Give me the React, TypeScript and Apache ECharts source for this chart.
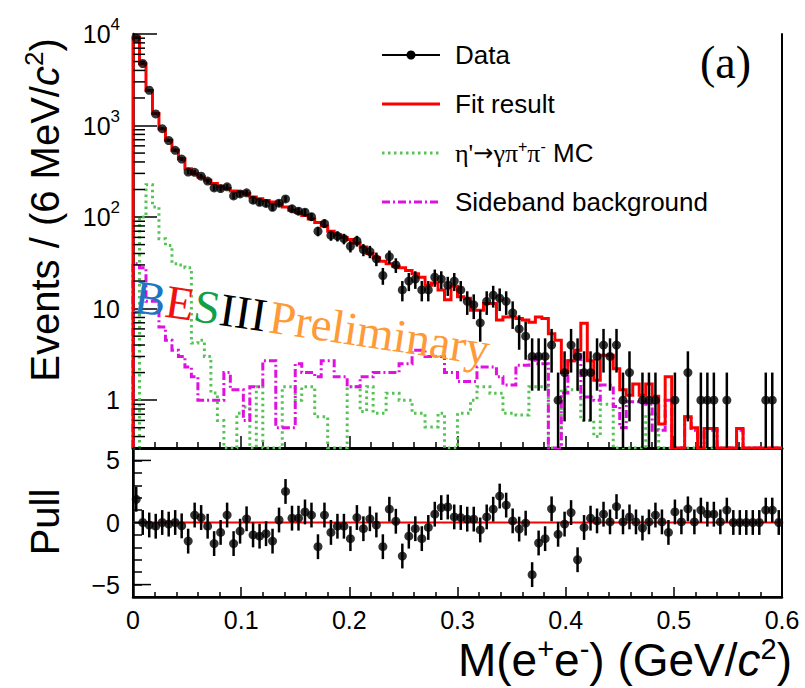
import React, { useEffect, useRef } from 'react';
import * as echarts from 'echarts';

const BIN_WIDTH = 0.006;
const X_MIN = 0;
const X_MAX = 0.6;
const Y_MIN = 0.3;
const Y_MAX = 10000;
const PULL_MIN = -6;
const PULL_MAX = 6;

const FIT = [
  9250, 4740, 2420, 1350, 925, 689, 536, 435, 338, 298,
  274, 252, 232, 217, 205, 193, 188, 180, 166, 159,
  152, 146, 140, 129, 119, 112, 104, 95, 87, 80,
  70, 64, 60, 57, 52, 47, 40, 36, 33, 31,
  29, 28, 26, 24, 22, 18, 19, 16, 12.5, 17.5,
  13.5, 13, 9.6, 9.6, 11.4, 11.4, 7.5, 8.1, 8.1, 7.8,
  7.5, 7.1, 8.1, 7.8, 5.3, 4.5, 2.0, 2.7, 3.5, 6.9,
  2.7, 1.65, 3.1, 3.1, 2.2, 1.3, 1.13, 1.5, 1.13, 1.5,
  1.1, 0.55, 1.8, 0, 0, 0.66, 0.5, 0, 0.49, 0.49,
  0, 0, 0, 0.49, 0, 0, 0, 0, 0, 0,
];

const DATA = [
  9000, 4760, 2430, 1340, 925, 686, 536, 430, 310, 308,
  280, 247, 208, 205, 214, 170, 179, 184, 153, 145,
  141, 128, 142, 158, 123, 116, 113, 101, 70, 85,
  63, 62, 58, 48, 55, 44, 42, 35, 23, 37,
  30, 16, 20, 21, 16, 16, 22, 21, 18, 20,
  16, 12, 11, 7, 12, 14, 13, 12, 9, 6,
  5, 3, 3, 3, 4, 1, 2, 4, 3, 2,
  2, 3, 4, 3, 4, 1, 2, 0, 1, 1,
  1, 0, 0, 1, 0, 2, 0, 1, 1, 1,
  0, 1, 0, 0, 0, 0, 0, 1, 1, 0,
];

const MC = [
  0, 100, 226, 129, 58, 49, 31, 30, 28, 4.2,
  4.5, 3, 1.2, 0.6, 0, 0, 0.72, 0.84, 0, 1.4,
  0, 0, 0, 1.4, 1.4, 1.0, 1.4, 1.4, 0.66, 0.66,
  0, 0, 0, 1.4, 1.4, 0.75, 1.4, 0.72, 0.72, 1.19,
  1.19, 1.0, 1.0, 0.72, 0.72, 0.51, 0.51, 0.72, 0, 0,
  0.72, 0.72, 1.0, 1.4, 1.4, 1.19, 1.19, 0.72, 0.72, 0.69,
  0.69, 1.4, 1.4, 1.4, 0, 0, 1.3, 1.3, 1.3, 0.6,
  0.6, 0.4, 0.9, 0.9, 0, 0, 0, 0, 0, 0.7,
  0.7, 0, 0, 0, 0, 0, 0, 0, 0, 0,
  0, 0, 0, 0, 0, 0, 0, 0, 0, 0,
];

const SIDEBAND = [
  31, 28, 12, 12, 6.3, 4.5, 3.5, 3.0, 2.3, 1.8,
  1.0, 1.0, 1.0, 1.0, 2.0, 1.3, 1.3, 0.6, 1.4, 1.4,
  2.7, 2.7, 0.5, 0.5, 0.5, 2.5, 2.0, 2.0, 1.8, 2.7,
  2.7, 1.8, 1.8, 1.4, 1.4, 1.8, 1.8, 2.0, 2.0, 2.0,
  2.0, 2.5, 2.5, 3.5, 3.5, 3.0, 3.0, 3.0, 2.0, 2.0,
  1.6, 1.6, 1.6, 2.3, 2.3, 2.3, 1.8, 1.46, 1.46, 2.4,
  2.4, 2.9, 2.5, 2.5, 0, 0, 1.2, 2.7, 3.5, 1.08,
  1.08, 1.0, 1.46, 1.46, 0.85, 0.5, 0.96, 0.96, 0.96, 0.9,
  0.47, 0.47, 1.0, 0, 0, 0.66, 0.47, 0, 0.47, 0.47,
  0, 0, 0, 0.47, 0, 0, 0, 0, 0, 0,
];

const PULL = [
  1.87, 0, -0.2, -0.3, 0, -0.13, 0, -0.27, -1.5, 0.6,
  0.4, -0.3, -1.7, -0.8, 0.6, -1.7, -0.7, 0.3, -1.0, -1.1,
  -0.9, -1.5, 0.2, 2.5, 0.35, 0.35, 0.85, 0.6, -1.95, 0.6,
  -0.8, -0.3, -0.3, -1.3, 0.4, -0.5, 0.3, -0.2, -1.95, 1.07,
  0.1, -2.7, -1.1, -0.5, -1.3, -0.4, 0.67, 1.2, 1.25, 0.45,
  0.4, 0.27, 0.27, -0.6, 0.45, 1.07, 2.13, 1.4, 0.13, -0.53,
  -0.05, -4.2, -1.65, -1.3, 1.1, -0.95, -0.13, 0.8, -3.0, -0.4,
  0.35, 0.13, 0.67, 0.05, 1.28, 0.05, 0.45, 0.05, -0.45, 0.05,
  0.6, 0.05, -0.8, 0.85, 0.05, 1.1, 0.05, 1.0, 0.67, 0.67,
  0.05, 1.0, 0, 0, 0, 0, 0, 1.0, 1.0, 0,
];

const PULL_MAJOR_TICKS = [-5, 0, 5];
const PULL_LABELS = [-5, 0, 5];

const SANS = '"Liberation Sans", Arial, Helvetica, sans-serif';
const SERIF = '"Liberation Serif", "Times New Roman", serif';
const RED = '#ff0000';
const GREEN = '#55c455';
const MAGENTA = '#e010e0';

function steps(vals: number[]) {
  const pts: number[][] = [[X_MIN, Y_MIN]];
  vals.forEach((v, i) => {
    const y = v > Y_MIN ? v : Y_MIN;
    pts.push([i * BIN_WIDTH, y], [(i + 1) * BIN_WIDTH, y]);
  });
  pts.push([X_MAX, Y_MIN]);
  return pts;
}

const center = (i: number) => (i + 0.5) * BIN_WIDTH;

function logMinorTicks() {
  const out: number[] = [];
  for (let e = -1; e <= 3; e++) {
    for (let m = 2; m <= 9; m++) {
      const v = m * Math.pow(10, e);
      if (v >= Y_MIN && v <= Y_MAX) out.push(v);
    }
  }
  return out;
}

function buildOption() {
  const dataPts = DATA.map((n, i) => [center(i), n]).filter((d) => d[1] > 0);
  const dataErr = DATA.map((n, i) => [center(i), Math.max(n - Math.sqrt(n), Y_MIN), n + Math.sqrt(n)]).filter(
    (_d, i) => DATA[i] > 0
  );
  const pullPts = PULL.map((p, i) => [center(i), p]);
  const pullErr = PULL.map((p, i) => [center(i), p - 1, p + 1]);

  const errRender = (width: number) => (params: any, api: any) => {
    const x = api.value(0);
    const p1 = api.coord([x, api.value(1)]);
    const p2 = api.coord([x, api.value(2)]);
    return {
      type: 'line',
      shape: { x1: p1[0], y1: p1[1], x2: p2[0], y2: p2[1] },
      style: { stroke: '#000', lineWidth: width },
    };
  };

  const tickRender = (len: number, width: number) => (params: any, api: any) => {
    const c = api.coord([X_MIN, api.value(1)]);
    return {
      type: 'line',
      shape: { x1: c[0], y1: c[1], x2: c[0] + len, y2: c[1] },
      style: { stroke: '#000', lineWidth: width },
    };
  };

  const stepSeries = (name: string, vals: number[], color: string, type: any, width: number, z: number) => ({
    name,
    type: 'line',
    xAxisIndex: 0,
    yAxisIndex: 0,
    data: steps(vals),
    showSymbol: false,
    symbol: 'none',
    lineStyle: { color, width, type, cap: 'butt', join: 'miter' },
    z,
    silent: true,
  });

  const legendY = [55, 104, 153, 202];
  const legendX1 = 382;
  const legendX2 = 440;
  const legendTextX = 455;
  const legendFont = 26;

  return {
    animation: false,
    backgroundColor: '#fff',
    grid: [
      { left: 133, right: 23, top: 34, height: 414, show: false },
      { left: 133, right: 23, top: 448, height: 149, show: true, borderColor: '#000', borderWidth: 2, backgroundColor: 'transparent' },
    ],
    xAxis: [
      {
        type: 'value', gridIndex: 0, min: X_MIN, max: X_MAX, interval: 0.1,
        axisLine: { show: true, onZero: false, lineStyle: { color: '#000', width: 3 } },
        axisTick: { show: true, inside: true, length: 12, lineStyle: { color: '#000', width: 1.5 } },
        minorTick: { show: true, splitNumber: 5, length: 6, lineStyle: { color: '#000', width: 1.5 } },
        axisLabel: { show: false },
        splitLine: { show: false },
      },
      {
        type: 'value', gridIndex: 1, min: X_MIN, max: X_MAX, interval: 0.1,
        axisLine: { show: true, onZero: false, lineStyle: { color: '#000', width: 2.5 } },
        axisTick: { show: true, inside: true, length: 10, lineStyle: { color: '#000', width: 1.5 } },
        minorTick: { show: true, splitNumber: 5, length: 5, lineStyle: { color: '#000', width: 1.5 } },
        axisLabel: { show: true, fontSize: 25, color: '#000', fontFamily: SANS, margin: 10 },
        splitLine: { show: false },
      },
    ],
    yAxis: [
      {
        type: 'log', gridIndex: 0, logBase: 10, min: Y_MIN, max: Y_MAX,
        axisLine: { show: true, lineStyle: { color: '#000', width: 2.5 } },
        axisTick: { show: true, inside: true, length: 24, lineStyle: { color: '#000', width: 1.5 } },
        axisLabel: {
          show: true, color: '#000', fontFamily: SANS, fontSize: 25, margin: 13,
          formatter: (v: number) => {
            const e = Math.round(Math.log10(v));
            const p = Math.pow(10, e);
            if (Math.abs(v - p) > 1e-6 * p || e < 0) return '';
            if (e === 0) return '1';
            if (e === 1) return '10';
            return `{b|10}{s|${e}}`;
          },
          rich: {
            b: { fontSize: 25, fontFamily: SANS, color: '#000', lineHeight: 36, verticalAlign: 'middle' },
            s: { fontSize: 17, fontFamily: SANS, color: '#000', lineHeight: 17, verticalAlign: 'top' },
          },
        },
        splitLine: { show: false },
      },
      {
        type: 'value', gridIndex: 1, min: PULL_MIN, max: PULL_MAX, interval: 1,
        axisLine: { show: true, onZero: false, lineStyle: { color: '#000', width: 2.5 } },
        axisTick: { show: true, inside: true, length: 9, lineStyle: { color: '#000', width: 1.5 } },
        axisLabel: {
          show: true, color: '#000', fontFamily: SANS, fontSize: 25, margin: 13,
          formatter: (v: number) => (PULL_LABELS.indexOf(v) >= 0 ? (v < 0 ? '\u2212' + Math.abs(v) : String(v)) : ''),
        },
        splitLine: { show: false },
      },
      {
        type: 'log', gridIndex: 0, logBase: 10, min: Y_MIN, max: Y_MAX, position: 'right',
        axisLine: { show: true, lineStyle: { color: '#000', width: 2 } },
        axisTick: { show: false },
        axisLabel: { show: false },
        splitLine: { show: false },
      },
    ],
    series: [
      stepSeries('eta MC', MC, GREEN, [2.5, 3.5], 3, 2),
      stepSeries('Sideband', SIDEBAND, MAGENTA, [8, 3, 2, 3], 3, 3),
      stepSeries('Fit result', FIT, RED, 'solid', 3, 4),
      {
        type: 'custom', xAxisIndex: 0, yAxisIndex: 0, data: dataErr, silent: true, z: 5,
        encode: { x: 0, y: [1, 2] },
        renderItem: errRender(2.5),
      },
      {
        type: 'scatter', xAxisIndex: 0, yAxisIndex: 0, data: dataPts, symbol: 'circle', symbolSize: 9,
        itemStyle: { color: '#000' }, silent: true, z: 6,
      },
      {
        type: 'custom', xAxisIndex: 0, yAxisIndex: 0, data: logMinorTicks().map((v) => [X_MIN, v]), silent: true, z: 7,
        encode: { x: 0, y: 1 },
        renderItem: tickRender(12, 1.5),
      },
      {
        type: 'line', xAxisIndex: 1, yAxisIndex: 1, data: [[X_MIN, 0], [X_MAX, 0]], showSymbol: false, symbol: 'none',
        lineStyle: { color: RED, width: 2 }, silent: true, z: 2,
      },
      {
        type: 'custom', xAxisIndex: 1, yAxisIndex: 1, data: pullErr, silent: true, z: 5,
        encode: { x: 0, y: [1, 2] },
        renderItem: errRender(2.5),
      },
      {
        type: 'scatter', xAxisIndex: 1, yAxisIndex: 1, data: pullPts, symbol: 'circle', symbolSize: 9,
        itemStyle: { color: '#000' }, silent: true, z: 6,
      },
      {
        type: 'custom', xAxisIndex: 1, yAxisIndex: 1, data: PULL_MAJOR_TICKS.map((v) => [X_MIN, v]), silent: true, z: 7,
        encode: { x: 0, y: 1 },
        renderItem: tickRender(18, 1.5),
      },
    ],
    graphic: [
      // legend
      { type: 'line', shape: { x1: legendX1, y1: legendY[0], x2: legendX2, y2: legendY[0] }, style: { stroke: '#000', lineWidth: 2 } },
      { type: 'circle', shape: { cx: (legendX1 + legendX2) / 2, cy: legendY[0], r: 4.5 }, style: { fill: '#000' } },
      { type: 'text', x: legendTextX, y: legendY[0], style: { text: 'Data', fontSize: legendFont, fontFamily: SANS, fill: '#000', verticalAlign: 'middle' } },
      { type: 'line', shape: { x1: legendX1, y1: legendY[1], x2: legendX2, y2: legendY[1] }, style: { stroke: RED, lineWidth: 3 } },
      { type: 'text', x: legendTextX, y: legendY[1], style: { text: 'Fit result', fontSize: legendFont, fontFamily: SANS, fill: '#000', verticalAlign: 'middle' } },
      { type: 'line', shape: { x1: legendX1, y1: legendY[2], x2: legendX2, y2: legendY[2] }, style: { stroke: GREEN, lineWidth: 3, lineDash: [2.5, 3.5] } },
      {
        type: 'text', x: legendTextX, y: legendY[2],
        style: {
          text: "{g|\u03b7'}{a|\u2192}{g|\u03b3\u03c0}{u|+}{g|\u03c0}{u|-}{n| MC}",
          verticalAlign: 'middle', fill: '#000',
          rich: {
            g: { fontSize: 26, fontFamily: SERIF, fill: '#000', lineHeight: 30, verticalAlign: 'middle' },
            a: { fontSize: 24, fontFamily: '"DejaVu Sans", sans-serif', fill: '#000', lineHeight: 30, verticalAlign: 'middle' },
            u: { fontSize: 16, fontFamily: SANS, fill: '#000', lineHeight: 15, verticalAlign: 'top' },
            n: { fontSize: legendFont, fontFamily: SANS, fill: '#000', lineHeight: 30, verticalAlign: 'middle' },
          },
        },
      },
      { type: 'line', shape: { x1: legendX1, y1: legendY[3], x2: legendX2, y2: legendY[3] }, style: { stroke: MAGENTA, lineWidth: 3, lineDash: [8, 3, 2, 3] } },
      { type: 'text', x: legendTextX, y: legendY[3], style: { text: 'Sideband background', fontSize: legendFont, fontFamily: SANS, fill: '#000', verticalAlign: 'middle' } },
      // panel tag
      { type: 'text', x: 700, y: 62, style: { text: '(a)', fontSize: 46, fontFamily: SERIF, fill: '#000', verticalAlign: 'middle' } },
      // watermark
      {
        type: 'text', x: 135, y: 296, rotation: -0.15, z: 10,
        style: {
          text: '{b|B}{e|E}{s|S}{k|III} {p|Preliminary}',
          verticalAlign: 'middle',
          rich: {
            b: { fontSize: 47, fontFamily: SERIF, fill: '#1f74c4' },
            e: { fontSize: 47, fontFamily: SERIF, fill: '#f01010' },
            s: { fontSize: 47, fontFamily: SERIF, fill: '#10a04a' },
            k: { fontSize: 47, fontFamily: SERIF, fill: '#000' },
            p: { fontSize: 47, fontFamily: SERIF, fill: '#ff9a38' },
          },
        },
      },
      // axis titles
      {
        type: 'text', x: 45, y: 210, rotation: Math.PI / 2,
        style: {
          text: 'Events / (6 MeV/{i|c}{s|2})',
          fontSize: 40, fontFamily: SANS, fill: '#000', align: 'center', verticalAlign: 'middle',
          rich: {
            i: { fontSize: 40, fontFamily: SANS, fontStyle: 'italic', fill: '#000', lineHeight: 48, verticalAlign: 'middle' },
            s: { fontSize: 26, fontFamily: SANS, fill: '#000', lineHeight: 26, verticalAlign: 'top' },
          },
        },
      },
      {
        type: 'text', x: 45, y: 522, rotation: Math.PI / 2,
        style: { text: 'Pull', fontSize: 40, fontFamily: SANS, fill: '#000', align: 'center', verticalAlign: 'middle' },
      },
      {
        type: 'text', x: 792, y: 660,
        style: {
          text: 'M(e{s|+}e{s|-}) (GeV/{i|c}{s|2})',
          fontSize: 46, fontFamily: SANS, fill: '#000', align: 'right', verticalAlign: 'middle',
          rich: {
            i: { fontSize: 46, fontFamily: SANS, fontStyle: 'italic', fill: '#000', lineHeight: 52, verticalAlign: 'middle' },
            s: { fontSize: 29, fontFamily: SANS, fill: '#000', lineHeight: 29, verticalAlign: 'top' },
          },
        },
      },
    ],
  };
}

export default function App() {
  const ref = useRef<HTMLDivElement>(null);
  useEffect(() => {
    document.body.style.margin = '0';
    const chart = echarts.init(ref.current as HTMLDivElement, null, { renderer: 'svg' });
    chart.setOption(buildOption() as any);
    return () => chart.dispose();
  }, []);
  return <div ref={ref} style={{ width: 805, height: 688 }} />;
}
